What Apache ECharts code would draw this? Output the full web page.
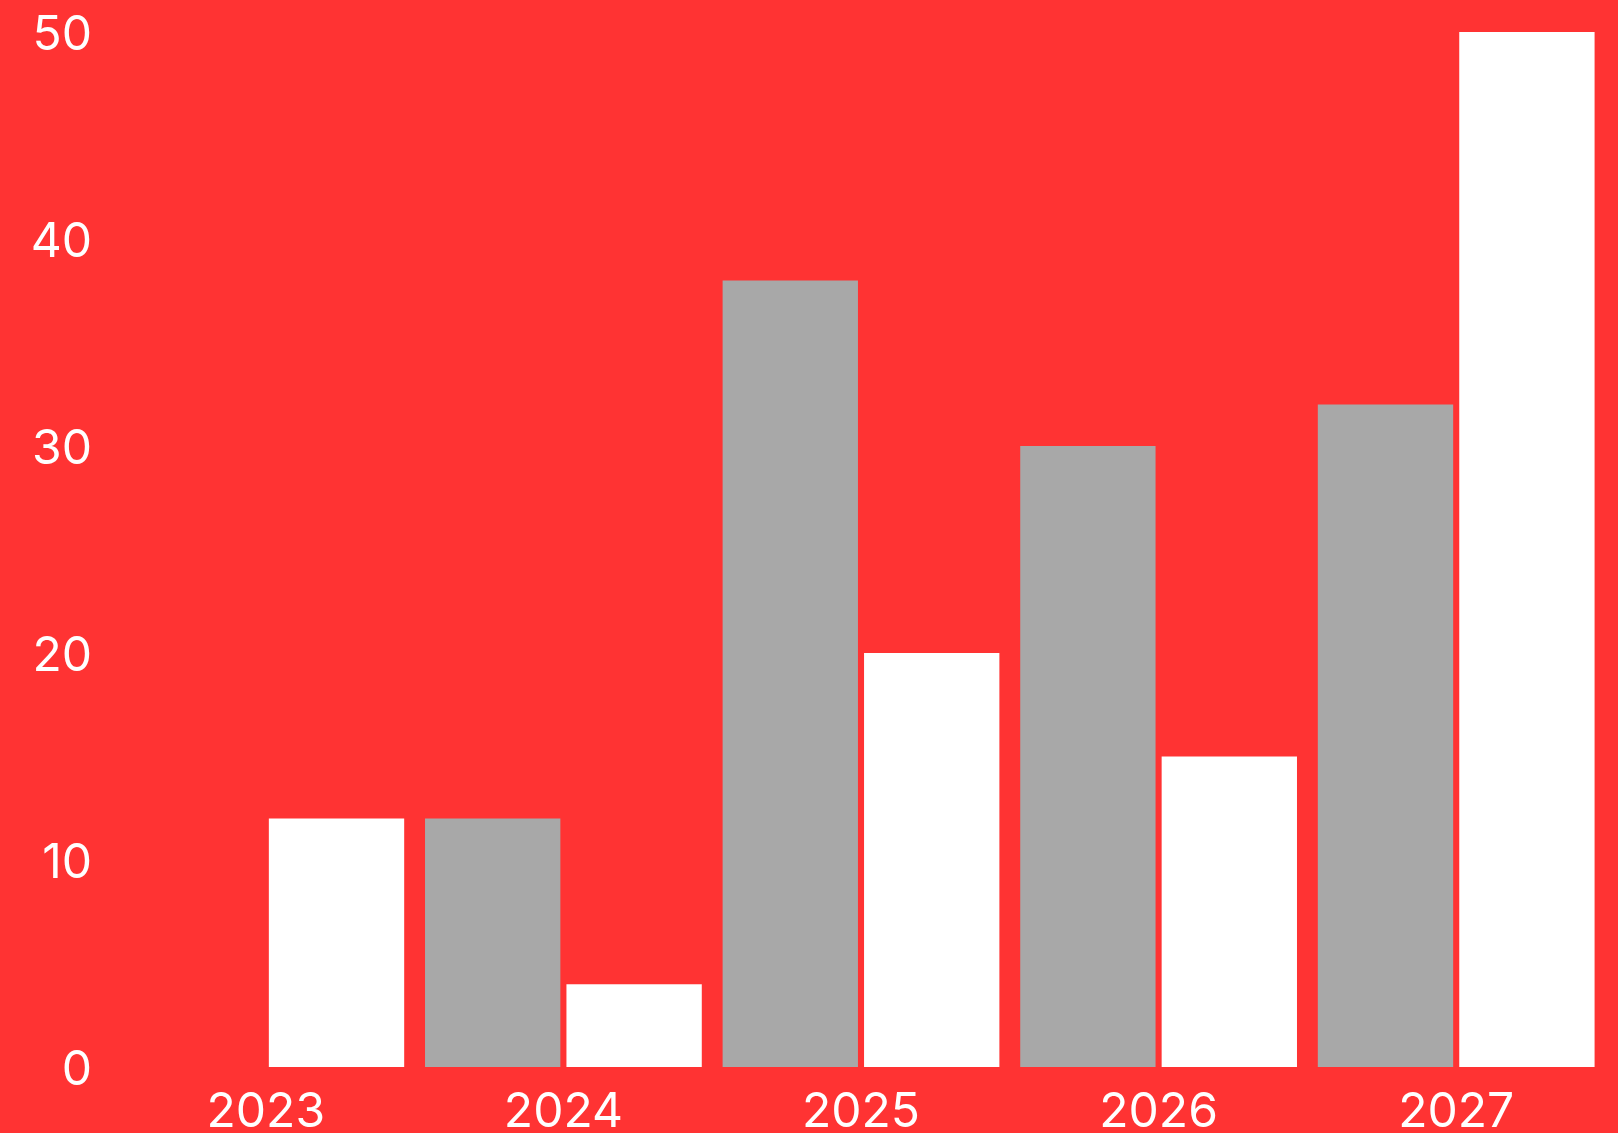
<!DOCTYPE html>
<html>
<head>
<meta charset="utf-8">
<script src="https://cdn.jsdelivr.net/npm/echarts@6/dist/echarts.min.js"></script>
<style>
html,body{margin:0;padding:0;background:#FF3333;}
#c{width:1618px;height:1133px;}
</style>
</head>
<body>
<div id="c"></div>
<script>
const categories = ['2023', '2024', '2025', '2026', '2027'];
const greyValues = [0, 12, 38, 30, 32];
const whiteValues = [12, 4, 20, 15, 50];
const yTicks = [0, 10, 20, 30, 40, 50];

const chart = echarts.init(document.getElementById('c'));
const labelFont = { color: '#ffffff', fontSize: 48, fontFamily: 'Inter', fontWeight: 400 };
chart.setOption({
  backgroundColor: '#FF3333',
  animation: false,
  grid: { left: 117, right: 13, top: 32, bottom: 66, containLabel: false, outerBoundsMode: 'none' },
  xAxis: {
    type: 'category',
    data: categories,
    axisLine: { show: false },
    axisTick: { show: false },
    axisLabel: Object.assign({ margin: 22 }, labelFont),
    splitLine: { show: false }
  },
  yAxis: {
    type: 'value',
    min: yTicks[0],
    max: yTicks[yTicks.length - 1],
    interval: 10,
    axisLine: { show: false },
    axisTick: { show: false },
    splitLine: { show: false },
    axisLabel: Object.assign({
      margin: 25,
      formatter: function (v) { return '{a|' + v + '}'; },
      rich: { a: Object.assign({ padding: [8, 0, 0, 0] }, labelFont) }
    }, labelFont)
  },
  series: [
    { type: 'bar', data: greyValues, itemStyle: { color: '#A8A8A8' }, barGap: '4.5%', barCategoryGap: '7%' },
    { type: 'bar', data: whiteValues, itemStyle: { color: '#FFFFFF' }, barGap: '4.5%', barCategoryGap: '7%' }
  ]
});
</script>
</body>
</html>
